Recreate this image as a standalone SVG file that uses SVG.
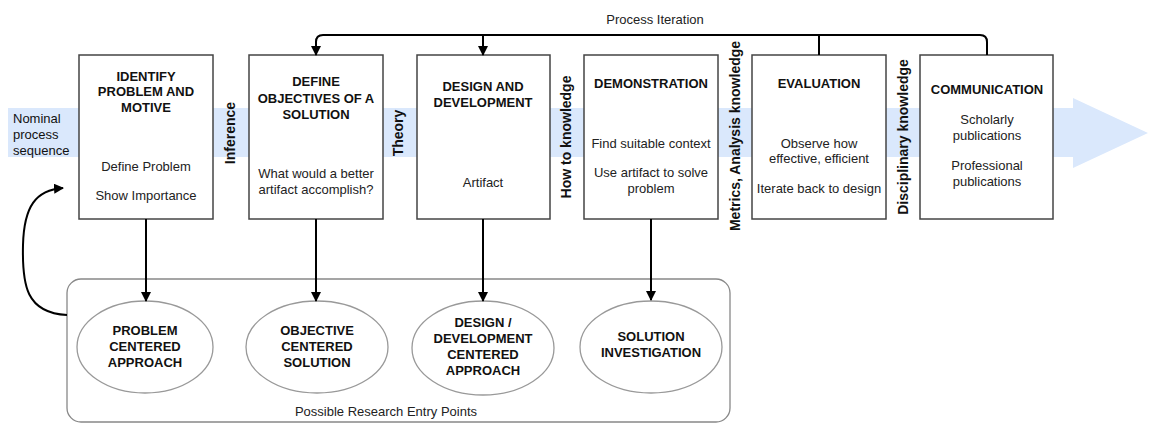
<svg xmlns="http://www.w3.org/2000/svg" width="1149" height="424" viewBox="0 0 1149 424">
  <defs>
    <marker id="arrow" viewBox="0 0 10 10" refX="9" refY="5" markerWidth="10" markerHeight="10" markerUnits="userSpaceOnUse" orient="auto">
      <path d="M0,0 L10,5 L0,10 Z" fill="#000"/>
    </marker>
    <style>
      text { font-family: "Liberation Sans", Arial, sans-serif; fill: #111; }
      .title { font-size: 13px; font-weight: bold; text-anchor: middle; }
      .body { font-size: 13px; text-anchor: middle; fill: #222; }
      .side { font-size: 14px; font-weight: bold; text-anchor: middle; dominant-baseline: central; }
      .box { fill: #fff; stroke: #444; stroke-width: 1.5; }
      .oval { fill: #fff; stroke: #999; stroke-width: 1.3; }
      .link { fill: none; stroke: #000; stroke-width: 2; }
    </style>
  </defs>

  <rect width="1149" height="424" fill="#fff"/>

  <!-- nominal process sequence band -->
  <g id="band">
    <path d="M8,108 H1073 V98 L1148,133 L1073,168 V157 H8 Z" fill="#dae8fc"/>
    <text x="13" y="123" font-size="13" fill="#222">Nominal</text>
    <text x="13" y="139" font-size="13" fill="#222">process</text>
    <text x="13" y="155" font-size="13" fill="#222">sequence</text>
  </g>

  <!-- entry points container -->
  <g id="entry-points">
    <rect x="67" y="279" width="663" height="143" rx="14" fill="#fff" stroke="#888" stroke-width="1.3"/>
    <text x="386" y="416" class="body">Possible Research Entry Points</text>
  </g>

  <!-- process activities -->
  <g id="identify">
    <rect class="box" x="79" y="55" width="134" height="164"/>
    <text class="title" x="146" y="81">IDENTIFY</text>
    <text class="title" x="146" y="96">PROBLEM AND</text>
    <text class="title" x="146" y="112">MOTIVE</text>
    <text class="body" x="146" y="171">Define Problem</text>
    <text class="body" x="146" y="200">Show Importance</text>
  </g>
  <g id="objectives">
    <rect class="box" x="249" y="55" width="134" height="164"/>
    <text class="title" x="316" y="86">DEFINE</text>
    <text class="title" x="316" y="103">OBJECTIVES OF A</text>
    <text class="title" x="316" y="119">SOLUTION</text>
    <text class="body" x="316" y="178">What would a better</text>
    <text class="body" x="316" y="194">artifact accomplish?</text>
  </g>
  <g id="design">
    <rect class="box" x="417" y="55" width="133" height="164"/>
    <text class="title" x="483" y="91">DESIGN AND</text>
    <text class="title" x="483" y="107">DEVELOPMENT</text>
    <text class="body" x="483" y="187">Artifact</text>
  </g>
  <g id="demonstration">
    <rect class="box" x="584" y="55" width="134" height="164"/>
    <text class="title" x="651" y="88">DEMONSTRATION</text>
    <text class="body" x="651" y="148">Find suitable context</text>
    <text class="body" x="651" y="177">Use artifact to solve</text>
    <text class="body" x="651" y="193">problem</text>
  </g>
  <g id="evaluation">
    <rect class="box" x="752" y="55" width="134" height="164"/>
    <text class="title" x="819" y="88">EVALUATION</text>
    <text class="body" x="819" y="148">Observe how</text>
    <text class="body" x="819" y="163">effective, efficient</text>
    <text class="body" x="819" y="193">Iterate back to design</text>
  </g>
  <g id="communication">
    <rect class="box" x="920" y="55" width="133" height="164"/>
    <text class="title" x="987" y="94">COMMUNICATION</text>
    <text class="body" x="987" y="124">Scholarly</text>
    <text class="body" x="987" y="140">publications</text>
    <text class="body" x="987" y="170">Professional</text>
    <text class="body" x="987" y="186">publications</text>
  </g>

  <!-- knowledge flows between activities -->
  <g id="knowledge-labels">
    <text class="side" transform="translate(230,133) rotate(-90)">Inference</text>
    <text class="side" transform="translate(398,133) rotate(-90)">Theory</text>
    <text class="side" transform="translate(566,137) rotate(-90)">How to knowledge</text>
    <text class="side" transform="translate(735,136) rotate(-90)">Metrics, Analysis knowledge</text>
    <text class="side" transform="translate(903,137) rotate(-90)">Disciplinary knowledge</text>
  </g>

  <!-- entry point ovals -->
  <g id="problem-centered">
    <ellipse class="oval" cx="145" cy="347" rx="68" ry="46"/>
    <text class="title" x="145" y="335">PROBLEM</text>
    <text class="title" x="145" y="351">CENTERED</text>
    <text class="title" x="145" y="367">APPROACH</text>
  </g>
  <g id="objective-centered">
    <ellipse class="oval" cx="317" cy="347" rx="71" ry="46"/>
    <text class="title" x="317" y="335">OBJECTIVE</text>
    <text class="title" x="317" y="351">CENTERED</text>
    <text class="title" x="317" y="367">SOLUTION</text>
  </g>
  <g id="design-centered">
    <ellipse class="oval" cx="483" cy="348" rx="71" ry="47"/>
    <text class="title" x="483" y="327">DESIGN /</text>
    <text class="title" x="483" y="343">DEVELOPMENT</text>
    <text class="title" x="483" y="359">CENTERED</text>
    <text class="title" x="483" y="375">APPROACH</text>
  </g>
  <g id="solution-investigation">
    <ellipse class="oval" cx="651" cy="347" rx="71" ry="46"/>
    <text class="title" x="651" y="341">SOLUTION</text>
    <text class="title" x="651" y="357">INVESTIGATION</text>
  </g>

  <!-- connectors -->
  <g id="connectors">
    <text x="655" y="24" class="body">Process Iteration</text>
    <path class="link" d="M980,35 H323 Q316,35 316,42 V55" marker-end="url(#arrow)"/>
    <path class="link" d="M980,35 Q987,35 987,42 V55"/>
    <path class="link" d="M483,35 V55" marker-end="url(#arrow)"/>
    <path class="link" d="M819,35 V55"/>
    <path class="link" d="M146,219 V301" marker-end="url(#arrow)"/>
    <path class="link" d="M316,219 V301" marker-end="url(#arrow)"/>
    <path class="link" d="M483,219 V301" marker-end="url(#arrow)"/>
    <path class="link" d="M651,219 V300" marker-end="url(#arrow)"/>
    <path class="link" d="M67,315 C26,313 22,285 23,245 C24,206 36,190 63,188" marker-end="url(#arrow)"/>
  </g>
</svg>
